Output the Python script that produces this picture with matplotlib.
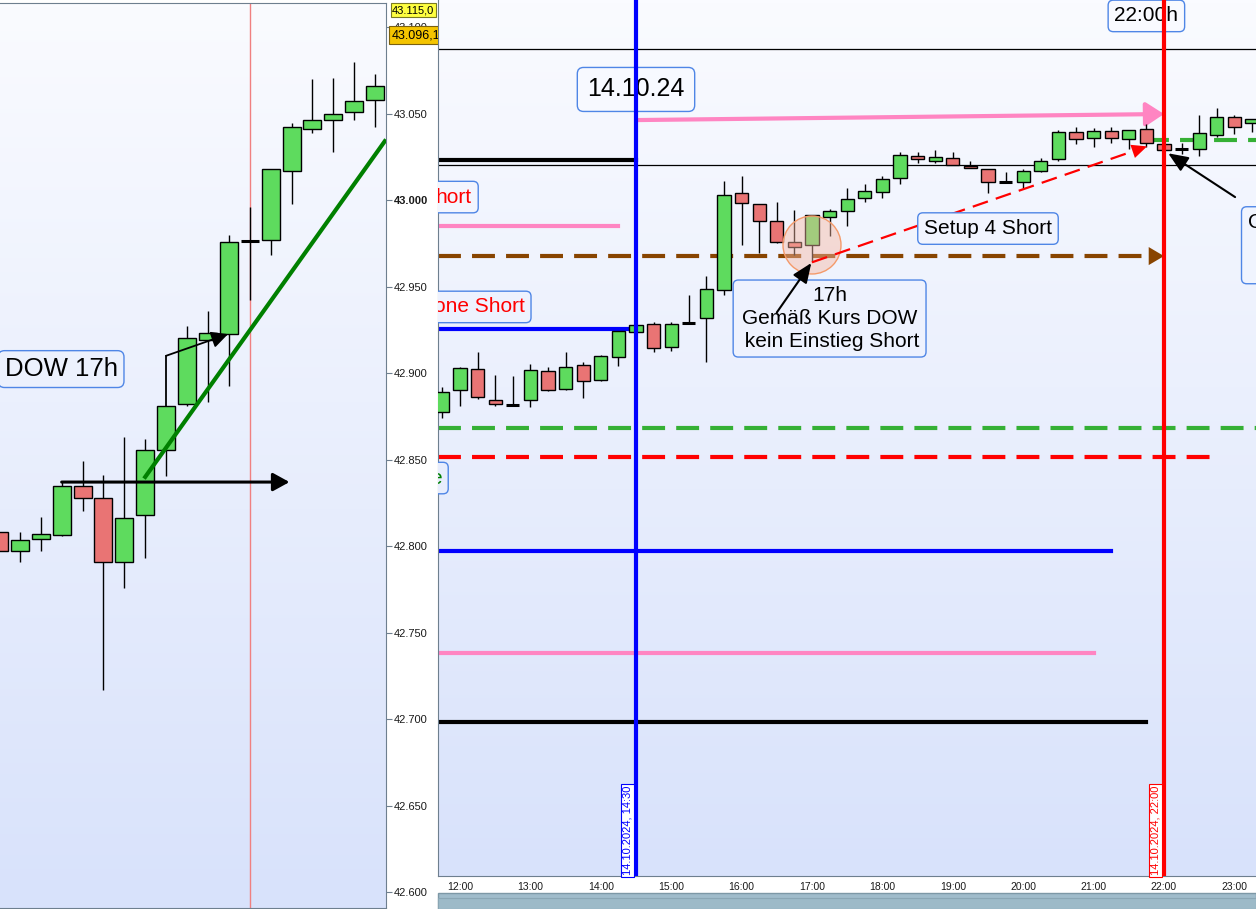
import matplotlib
matplotlib.use("Agg")
import matplotlib.pyplot as plt
import numpy as np
from matplotlib.patches import Rectangle, Ellipse

plt.rcParams['font.family'] = ['Liberation Sans', 'DejaVu Sans']
plt.rcParams['lines.scale_dashes'] = False

# ---------------- left panel: DOW candles around 17h ----------------
dow_open = [42808, 42797, 42804, 42806.5, 42835, 42828, 42791, 42818, 42855.5, 42882,
            42919, 42922.5, 42976.5, 42977, 43017, 43041, 43046, 43051, 43058]
dow_high = [42810, 42808, 42817, 42837, 42849, 42841, 42863, 42862, 42881, 42927,
            42936, 42980, 42996, 43018, 43044.5, 43070, 43070.5, 43080, 43073]
dow_low = [42794, 42791, 42797, 42806, 42820, 42717, 42776, 42793, 42840.5, 42881,
           42883, 42892.5, 42942, 42968, 42998, 43039, 43028, 43046, 43042]
dow_close = [42797, 42803.5, 42807, 42835, 42828, 42791, 42816, 42855.5, 42881, 42920,
             42923, 42976, 42976.5, 43018, 43042, 43046, 43050, 43057, 43066]
dow_ticks = [42600, 42650, 42700, 42750, 42800, 42850, 42900, 42950, 43000, 43050, 43100]
dow_last = "43.096,1"
dow_top = "43.115,0"

# ---------------- right panel: 15 min candles, 14.10.2024 ----------------
times = ["11:45", "12:00", "12:15", "12:30", "12:45", "13:00", "13:15", "13:30", "13:45",
         "14:00", "14:15", "14:30", "14:45", "15:00", "15:15", "15:30", "15:45", "16:00",
         "16:15", "16:30", "16:45", "17:00", "17:15", "17:30", "17:45", "18:00", "18:15",
         "18:30", "18:45", "19:00", "19:15", "19:30", "19:45", "20:00", "20:15", "20:30",
         "20:45", "21:00", "21:15", "21:30", "21:45", "22:00", "22:15", "22:30", "22:45",
         "23:00", "23:15"]
r_open = [42877.5, 42890, 42902.5, 42884.5, 42881.5, 42884.5, 42901, 42891, 42904.5,
          42896, 42909.5, 42923.5, 42928.5, 42915, 42929, 42932, 42948, 43004,
          42997.5, 42988, 42975.5, 42974, 42990, 42993.5, 43001, 43004.5, 43012.5,
          43025.5, 43022.5, 43024.5, 43019.5, 43018, 43010.5, 43010.5, 43017, 43023.5,
          43039.5, 43036, 43040, 43035.5, 43041, 43032.5, 43029.5, 43029.5, 43037.5,
          43048, 43044.5]
r_high = [42892, 42903.5, 42912, 42899, 42898.5, 42905, 42903.5, 42912, 42906.5,
          42910.5, 42924.5, 42928, 42929.5, 42929.5, 42945, 42956, 43011, 43014,
          42997.5, 42999, 42994, 42991.5, 42995, 43007, 43009, 43014, 43028,
          43028, 43029, 43028, 43022.5, 43018, 43016, 43018, 43024.5, 43040.5,
          43042, 43041.5, 43042, 43040.5, 43044, 43032.5, 43033, 43049, 43053,
          43049, 43047]
r_low = [42874, 42881, 42885, 42881, 42881.5, 42880.5, 42889.5, 42890, 42885.5,
         42895.5, 42904, 42923, 42912, 42912.5, 42929, 42906.5, 42945, 42974,
         42969.5, 42975, 42968, 42964, 42979, 42985, 42999, 43001, 43009,
         43021.5, 43021.5, 43020, 43018.5, 43004, 43010.5, 43007, 43016, 43022.5,
         43032.5, 43030.5, 43033, 43029.5, 43030.5, 43029, 43026.5, 43025.5, 43036.5,
         43038, 43039.5]
r_close = [42889, 42903, 42886, 42882, 42881.5, 42901.5, 42890, 42903.5, 42895.5,
           42910, 42924.5, 42927.5, 42914.5, 42928.5, 42929, 42948.5, 43003, 42998.5,
           42988, 42975.5, 42973, 42991.5, 42993.5, 43000.5, 43005, 43012, 43026,
           43023.5, 43025, 43020, 43018.5, 43010.5, 43010.5, 43017, 43022.5, 43039.5,
           43035.5, 43040, 43036, 43040.5, 43033, 43029, 43029.5, 43038.5, 43048,
           43042, 43047]
hour_labels = ["12:00", "13:00", "14:00", "15:00", "16:00", "17:00", "18:00", "19:00",
               "20:00", "21:00", "22:00", "23:00"]

# drawn levels in the right panel
thin_levels = [43087.3, 43020.2]
black_top, blue_mid, pink_upper = 43023.1, 42925.4, 42985.0
pink_arrow = (43046.2, 43049.7)
brown_level = 42967.6
green_level, red_level = 42868.2, 42851.5
blue_low, pink_low, black_low = 42797.1, 42738.2, 42698.3
green_short = 43034.7
trend_red = (42964.0, 43031.0)

GREEN, RED = '#5edb5e', '#e97474'
BOXEDGE = '#4f86e6'
BG_TOP = np.array([250, 251, 255]) / 255
BG_BOT = np.array([216, 226, 251]) / 255


def hours(s):
    h, m = s.split(':')
    return int(h) + int(m) / 60


def bg_at(f):
    return tuple(BG_TOP * (1 - f) + BG_BOT * f)


def add_bg(ax):
    g = np.linspace(0, 1, 256)[:, None, None]
    img = BG_TOP * (1 - g) + BG_BOT * g
    ax.imshow(img, extent=(0, 1, 0, 1), transform=ax.transAxes,
              aspect='auto', zorder=0, origin='upper')


def candles(ax, x, o, h, l, c, width):
    for xi, oi, hi, li, ci in zip(x, o, h, l, c):
        ax.vlines(xi, li, hi, color='black', lw=1, zorder=3)
        if abs(ci - oi) < 0.6:
            ax.hlines(oi, xi - width / 2, xi + width / 2, color='black', lw=2.2, zorder=4)
        else:
            col = GREEN if ci > oi else RED
            ax.add_patch(Rectangle((xi - width / 2, min(oi, ci)), width, abs(ci - oi),
                                   facecolor=col, edgecolor='black', lw=1, zorder=4))


def box(ax, x, y, s, size=15, color='black', ha='center', va='center', f=0.3, pad=0.3):
    ax.text(x, y, s, fontsize=size, color=color, ha=ha, va=va, zorder=6,
            multialignment='center', linespacing=1.25, clip_on=True,
            bbox=dict(boxstyle=f'round,pad={pad},rounding_size=0.25',
                      fc=bg_at(f), ec=BOXEDGE, lw=1))


def arrow(ax, tip, tail, color, lw, hl, hw, z=7):
    ax.annotate('', xy=tip, xytext=tail, zorder=z,
                arrowprops=dict(arrowstyle=f'-|>,head_length={hl},head_width={hw}',
                                color=color, lw=lw, shrinkA=0, shrinkB=0,
                                mutation_scale=10))


W, H = 1256, 909
fig = plt.figure(figsize=(W / 100, H / 100), dpi=100, facecolor='white')


def px_axes(x0, y0, x1, y1):
    return fig.add_axes([x0 / W, (H - y1) / H, (x1 - x0) / W, (y1 - y0) / H])


axL = px_axes(0, 3, 386, 908)
axR = px_axes(438, 0, 1256, 876)
SPINE = '#6e7f8f'

# ---------------- left panel ----------------
add_bg(axL)
idx = np.arange(len(dow_open))
axL.axvline(12, color='#f08080', lw=1, zorder=1)
candles(axL, idx, dow_open, dow_high, dow_low, dow_close, 0.86)
axL.plot([6.94, 18.52], [42839, 43035], color='#008000', lw=3, zorder=6,
         solid_capstyle='butt')
arrow(axL, (13.9, 42837), (3, 42837), 'black', 2.2, 1.0, 0.55)
axL.plot([8, 8], [42881, 42910], color='black', lw=1.3, zorder=6)
arrow(axL, (10.96, 42922.5), (8, 42910), 'black', 1.3, 1.0, 0.5)
axL.text(2.97, 42902.3, "DOW 17h", fontsize=18.5, ha='center', va='center', zorder=6,
         clip_on=True,
         bbox=dict(boxstyle='round,pad=0.25,rounding_size=0.25', fc=bg_at(0.4),
                   ec=BOXEDGE, lw=1))

axL.set_xlim(0.048, 18.52)
axL.set_ylim(42590.8, 43113.9)
axL.set_xticks([])
axL.yaxis.tick_right()
lbls = [f"{v:,.0f}".replace(",", ".") for v in dow_ticks]
axL.set_yticks(dow_ticks, lbls)
axL.tick_params(axis='y', direction='out', length=4, width=0.8, color=SPINE,
                labelsize=8, pad=1.5, labelcolor='#1a1a1a')
for t in axL.get_yticklabels():
    if t.get_text() == "43.000":
        t.set_fontweight('bold')
for side in ['top', 'right', 'bottom']:
    axL.spines[side].set_color(SPINE)
axL.spines['left'].set_visible(False)

ytr = axL.get_yaxis_transform()
axL.text(1.016, 43109.8, dow_top, transform=ytr, fontsize=8, ha='left', va='center',
         clip_on=False, zorder=10,
         bbox=dict(boxstyle='square,pad=0.15', fc='#ffff40', ec='#7a7a20', lw=0.8))
axL.text(1.016, 43095.4, dow_last, transform=ytr, fontsize=9, ha='left', va='center',
         clip_on=False, zorder=10,
         bbox=dict(boxstyle='square,pad=0.25', fc='#f4c400', ec='#7a6010', lw=0.8))

# ---------------- right panel ----------------
add_bg(axR)
tx = [hours(s) for s in times]
x_lo, x_hi = 11.6875, 23.307

for lv in thin_levels:
    axR.axhline(lv, color='black', lw=0.9, zorder=2)
axR.plot([x_lo, 14.5], [black_top, black_top], color='black', lw=3, zorder=2)
axR.plot([x_lo, 14.5], [blue_mid, blue_mid], color='#0000ff', lw=3, zorder=2)
axR.plot([x_lo, 14.24], [pink_upper, pink_upper], color='#ff85c2', lw=3, zorder=2)
arrow(axR, (22.0, pink_arrow[1]), (14.5, pink_arrow[0]), '#ff85c2', 3, 1.1, 0.72, z=2)

dash = (0, (16.5, 8))
axR.plot([x_lo, 21.8], [brown_level, brown_level], color='#884400', lw=3, ls=dash, zorder=2)
arrow(axR, (22.0, brown_level), (21.7, brown_level), '#884400', 0, 1.1, 0.65, z=2)
axR.plot([x_lo, x_hi], [green_level, green_level], color='#35b035', lw=3, ls=dash, zorder=2)
axR.plot([x_lo, 22.75], [red_level, red_level], color='#ff0000', lw=3, ls=dash, zorder=2)
axR.plot([21.75, x_hi], [green_short, green_short], color='#35b035', lw=3, ls=dash, zorder=2)
axR.plot([x_lo, 21.25], [blue_low, blue_low], color='#0000ff', lw=3, zorder=2)
axR.plot([x_lo, 21.0], [pink_low, pink_low], color='#ff85c2', lw=3, zorder=2)
axR.plot([x_lo, 21.75], [black_low, black_low], color='black', lw=3, zorder=2)

candles(axR, tx, r_open, r_high, r_low, r_close, 0.19)

axR.add_patch(Ellipse((17.0, 42974), 0.824, 33.5, facecolor='#f7b9a4', alpha=0.45,
                      edgecolor='none', zorder=5))
axR.add_patch(Ellipse((17.0, 42974), 0.824, 33.5, facecolor='none',
                      edgecolor='#f49a6a', lw=1, zorder=5))

axR.plot([17.0, 21.6], [trend_red[0], trend_red[0] + (trend_red[1] - trend_red[0]) * 4.6 / 4.76],
         color='#ff0000', lw=1.6, ls=(0, (11.5, 6)), zorder=5)
arrow(axR, (21.76, trend_red[1]), (17.0, trend_red[0]), '#ff0000', 0, 1.1, 0.5, z=5)

box(axR, 14.5, 43063.9, "14.10.24", size=18, f=0.1, pad=0.4)
box(axR, 21.75, 43106.4, "22:00h", f=0.02)
box(axR, 19.5, 42983.5, "Setup 4 Short", f=0.26)
box(axR, 17.25, 42931.5, "17h\nGemäß Kurs DOW\n kein Einstieg Short", f=0.36, pad=0.3)
box(axR, 12.17, 43001.7, "hort", color='#ff0000', ha='right', f=0.22)
box(axR, 12.92, 42938.2, "one Short", color='#ff0000', ha='right', f=0.35)
box(axR, 11.744, 42839.3, "e", color='#008000', ha='right', f=0.55)
box(axR, 23.19, 42992.5, "C\n \n ", ha='left', va='top', f=0.28)

arrow(axR, (16.99, 42963.6), (16.5, 42935), 'black', 1.5, 1.2, 0.5)
arrow(axR, (22.06, 43027), (23.01, 43001.7), 'black', 1.5, 1.2, 0.5)

axR.axvline(14.5, color='#0000ff', lw=3, zorder=8)
axR.axvline(22.0, color='#ff0000', lw=3, zorder=8)

y_lo, y_hi = 42609.3, 43115.6
axR.annotate("14.10.2024, 14:30", xy=(14.5, y_lo), xytext=(-2.5, 0.5),
             textcoords='offset points', rotation=90, ha='right', va='bottom',
             color='#0000ff', fontsize=8, zorder=9,
             bbox=dict(boxstyle='square,pad=0.15', fc='white', ec='#0000ff', lw=0.8))
axR.annotate("14.10.2024, 22:00", xy=(22.0, y_lo), xytext=(-2.5, 0.5),
             textcoords='offset points', rotation=90, ha='right', va='bottom',
             color='#ff0000', fontsize=8, zorder=9,
             bbox=dict(boxstyle='square,pad=0.15', fc='white', ec='#ff0000', lw=0.8))

axR.set_xlim(x_lo, x_hi)
axR.set_ylim(y_lo, y_hi)
axR.set_yticks([])
axR.set_xticks([hours(s) for s in hour_labels], hour_labels)
axR.tick_params(axis='x', length=0, pad=4, labelsize=7.5, labelcolor='#1a1a1a')
axR.spines['left'].set_color(SPINE)
axR.spines['bottom'].set_color(SPINE)
axR.spines['top'].set_visible(False)
axR.spines['right'].set_visible(False)

# scroll bar strip under the right chart
fig.patches.append(Rectangle((438 / W, 0), 818 / W, 16 / H, transform=fig.transFigure,
                             facecolor='#a0bccb', edgecolor='#7d98a6', lw=1))
fig.patches.append(Rectangle((438 / W, 0), 818 / W, 11 / H, transform=fig.transFigure,
                             facecolor='#9dbac8', edgecolor='#8aa6b4', lw=0.8))

fig.savefig("out.png", dpi=100)
